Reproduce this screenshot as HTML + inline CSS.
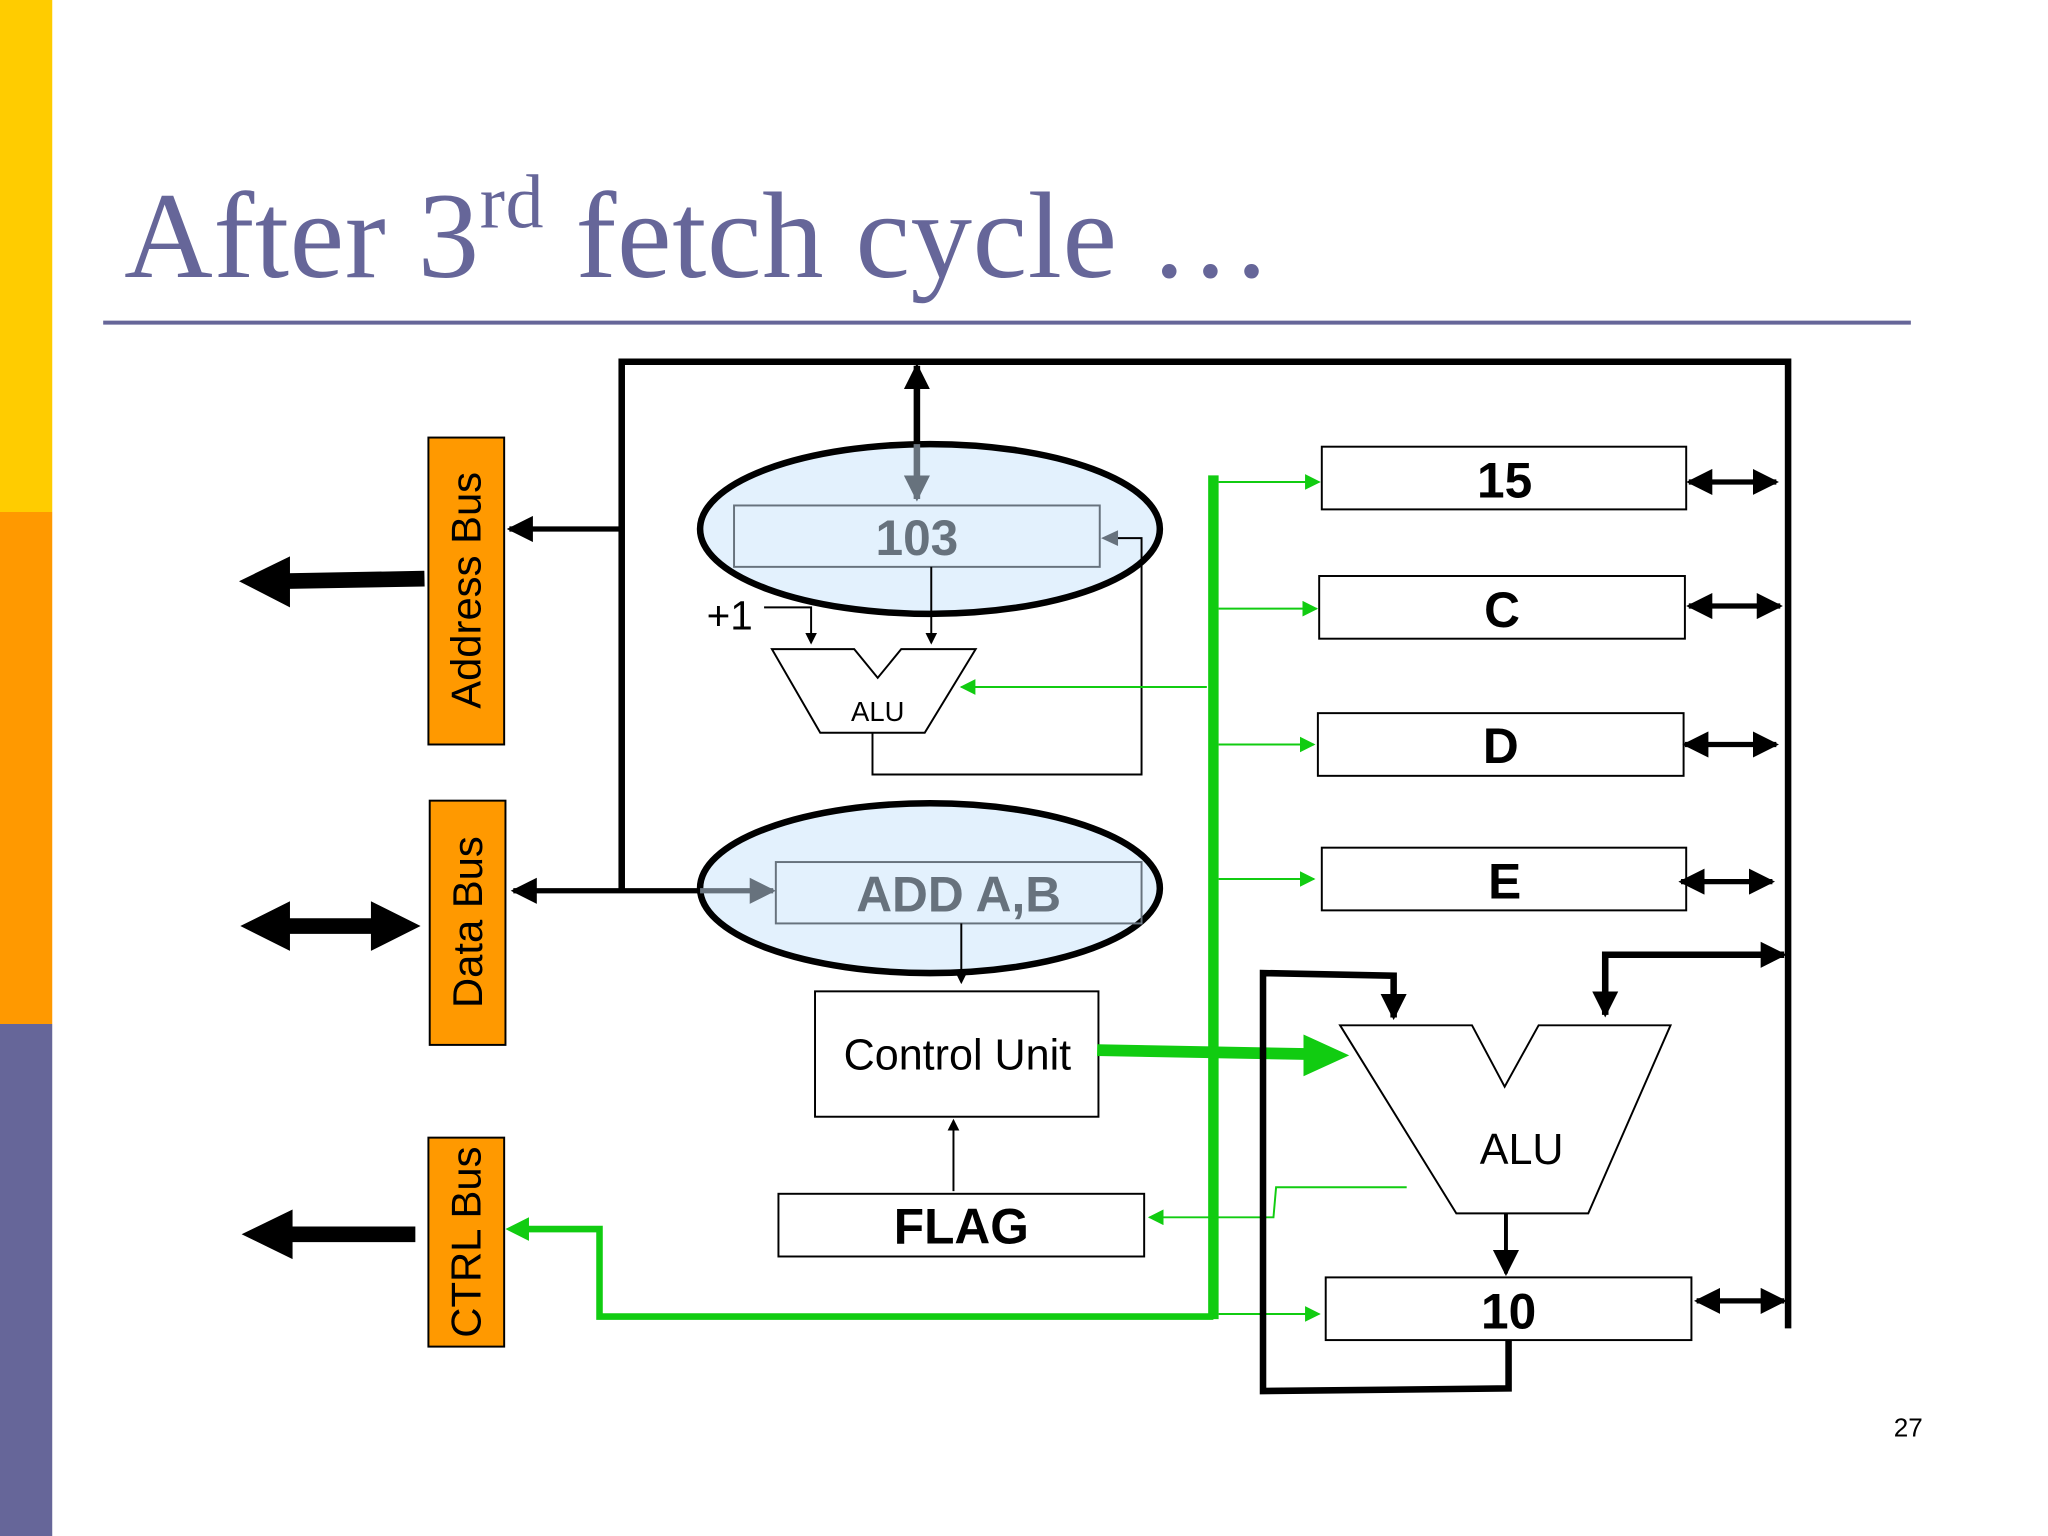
<!DOCTYPE html>
<html><head><style>html,body{margin:0;padding:0;background:#fff}svg{display:block}</style></head>
<body>
<svg width="2048" height="1536" viewBox="0 0 1568 1176" xmlns="http://www.w3.org/2000/svg" font-family="Liberation Sans, sans-serif">
<defs>
<marker id="ab" markerWidth="6" markerHeight="6" refX="5" refY="3" orient="auto-start-reverse" markerUnits="strokeWidth"><path d="M0,0L6,3L0,6z" fill="#000"/></marker>
<marker id="as" viewBox="0 0 10 10" markerWidth="20" markerHeight="20" refX="9" refY="5" orient="auto-start-reverse" markerUnits="userSpaceOnUse"><path d="M0,0L10,5L0,10z" fill="#000"/></marker>
<marker id="ag" viewBox="0 0 10 10" markerWidth="12" markerHeight="12" refX="9" refY="5" orient="auto" markerUnits="userSpaceOnUse"><path d="M0,0L10,5L0,10z" fill="#1c1"/></marker>
<marker id="agy" viewBox="0 0 10 10" markerWidth="20" markerHeight="20" refX="9" refY="5" orient="auto" markerUnits="userSpaceOnUse"><path d="M0,0L10,5L0,10z" fill="#67727d"/></marker>
</defs>
<rect x="0" y="0" width="40" height="392" fill="#FFCC00"/>
<rect x="0" y="392" width="40" height="392" fill="#FF9900"/>
<rect x="0" y="784" width="40" height="392" fill="#666699"/>
<text x="95" y="212" font-family="Liberation Serif, serif" font-size="94" letter-spacing="0.5" fill="#666699">After 3<tspan font-size="58" dy="-38">rd</tspan><tspan dy="38"> fetch cycle …</tspan></text>
<line x1="79" y1="247" x2="1463" y2="247" stroke="#666699" stroke-width="3"/>

<polyline points="476,682 476,277 1369,277 1369,1017" fill="none" stroke="#000" stroke-width="5"/>
<line x1="476" y1="405" x2="390" y2="405" stroke="#000" stroke-width="4" marker-end="url(#as)"/>
<line x1="536" y1="682" x2="393" y2="682" stroke="#000" stroke-width="4" marker-end="url(#as)"/>
<line x1="702" y1="340" x2="702" y2="280" stroke="#000" stroke-width="5" marker-end="url(#as)"/>

<rect x="328" y="335" width="58" height="235" fill="#FF9900" stroke="#000" stroke-width="1.5"/>
<text transform="translate(368,452) rotate(-90)" text-anchor="middle" font-size="32">Address Bus</text>
<rect x="329" y="613" width="58" height="187" fill="#FF9900" stroke="#000" stroke-width="1.5"/>
<text transform="translate(369,706) rotate(-90)" text-anchor="middle" font-size="32">Data Bus</text>
<rect x="328" y="871" width="58" height="160" fill="#FF9900" stroke="#000" stroke-width="1.5"/>
<text transform="translate(368,951) rotate(-90)" text-anchor="middle" font-size="32">CTRL Bus</text>

<line x1="325" y1="443" x2="215" y2="445" stroke="#000" stroke-width="12"/>
<path d="M183,445 L222,426 L222,465z"/>
<line x1="215" y1="709" x2="290" y2="709" stroke="#000" stroke-width="12"/>
<path d="M184,709 L222,690 L222,728z M322,709 L284,690 L284,728z"/>
<line x1="318" y1="945" x2="215" y2="945" stroke="#000" stroke-width="12"/>
<path d="M185,945 L224,926 L224,964z"/>

<ellipse cx="712" cy="405" rx="176" ry="65" fill="#e3f1fd" stroke="#000" stroke-width="5"/>
<rect x="562" y="387" width="280" height="47" fill="none" stroke="#67727d" stroke-width="1.5"/>
<text x="702" y="425" text-anchor="middle" font-size="38" font-weight="bold" fill="#67727d">103</text>
<line x1="702" y1="340" x2="702" y2="382" stroke="#67727d" stroke-width="5" marker-end="url(#agy)"/>
<ellipse cx="712" cy="680" rx="176" ry="65" fill="#e3f1fd" stroke="#000" stroke-width="5"/>
<rect x="594" y="660" width="280" height="47" fill="none" stroke="#67727d" stroke-width="1.5"/>
<text x="734" y="698" text-anchor="middle" font-size="38" font-weight="bold" fill="#67727d">ADD A,B</text>
<line x1="536" y1="682" x2="592" y2="682" stroke="#67727d" stroke-width="4" marker-end="url(#agy)"/>

<path d="M591,497 L654,497 L672,519 L690,497 L747,497 L708,561 L628,561 Z" fill="#fff" stroke="#000" stroke-width="1.5"/>
<text x="672" y="552" text-anchor="middle" font-size="21">ALU</text>
<text x="541" y="482" font-size="31">+1</text>
<polyline points="585,465 621,465 621,492" fill="none" stroke="#000" stroke-width="1.5" marker-end="url(#ab)"/>
<line x1="713" y1="434" x2="713" y2="492" stroke="#000" stroke-width="1.5" marker-end="url(#ab)"/>
<polyline points="668,561 668,593 874,593 874,412 846,412" fill="none" stroke="#000" stroke-width="1.5"/>
<path d="M843,412 L856,406 L856,418z" fill="#67727d"/>
<line x1="924" y1="526" x2="736" y2="526" stroke="#1c1" stroke-width="1.5" marker-end="url(#ag)"/>

<line x1="736" y1="707" x2="736" y2="752" stroke="#000" stroke-width="1.5" marker-end="url(#ab)"/>
<rect x="624" y="759" width="217" height="96" fill="#fff" stroke="#000" stroke-width="1.5"/>
<text x="733" y="819" text-anchor="middle" font-size="33">Control Unit</text>
<rect x="596" y="914" width="280" height="48" fill="#fff" stroke="#000" stroke-width="1.5"/>
<text x="736" y="952" text-anchor="middle" font-size="38" font-weight="bold">FLAG</text>
<line x1="730" y1="912" x2="730" y2="858" stroke="#000" stroke-width="1.5" marker-end="url(#ab)"/>

<line x1="929" y1="364" x2="929" y2="1010" stroke="#1c1" stroke-width="8"/>
<polyline points="929,1008 459,1008 459,941 400,941" fill="none" stroke="#1c1" stroke-width="5"/>
<path d="M387,941 L405,932 L405,950z" fill="#1c1"/>
<line x1="840" y1="804" x2="1000" y2="807" stroke="#1c1" stroke-width="9"/>
<path d="M1033,808 L998,792 L998,824z" fill="#1c1"/>
<line x1="933" y1="369" x2="1010" y2="369" stroke="#1c1" stroke-width="1.5" marker-end="url(#ag)"/>
<line x1="933" y1="466" x2="1008" y2="466" stroke="#1c1" stroke-width="1.5" marker-end="url(#ag)"/>
<line x1="933" y1="570" x2="1006" y2="570" stroke="#1c1" stroke-width="1.5" marker-end="url(#ag)"/>
<line x1="933" y1="673" x2="1006" y2="673" stroke="#1c1" stroke-width="1.5" marker-end="url(#ag)"/>
<line x1="933" y1="1006" x2="1010" y2="1006" stroke="#1c1" stroke-width="1.5" marker-end="url(#ag)"/>
<polyline points="1077,909 977,909 975,932 925,932 880,932" fill="none" stroke="#1c1" stroke-width="1.5" marker-end="url(#ag)"/>

<g stroke="#000" stroke-width="1.5" fill="#fff">
<rect x="1012" y="342" width="279" height="48"/>
<rect x="1010" y="441" width="280" height="48"/>
<rect x="1009" y="546" width="280" height="48"/>
<rect x="1012" y="649" width="279" height="48"/>
<rect x="1015" y="978" width="280" height="48"/>
</g>
<g font-size="38" font-weight="bold" text-anchor="middle">
<text x="1152" y="381">15</text>
<text x="1150" y="480">C</text>
<text x="1149" y="584">D</text>
<text x="1152" y="688">E</text>
<text x="1155" y="1017">10</text>
</g>
<g stroke="#000" stroke-width="4">
<line x1="1293" y1="369" x2="1360" y2="369" marker-start="url(#as)" marker-end="url(#as)"/>
<line x1="1293" y1="464" x2="1363" y2="464" marker-start="url(#as)" marker-end="url(#as)"/>
<line x1="1290" y1="570" x2="1360" y2="570" marker-start="url(#as)" marker-end="url(#as)"/>
<line x1="1287" y1="675" x2="1357" y2="675" marker-start="url(#as)" marker-end="url(#as)"/>
<line x1="1299" y1="996" x2="1366" y2="996" marker-start="url(#as)" marker-end="url(#as)"/>
</g>

<path d="M1026,785 L1127,785 L1152,832 L1178,785 L1279,785 L1216,929 L1115,929 Z" fill="#fff" stroke="#000" stroke-width="1.5"/>
<text x="1165" y="891" text-anchor="middle" font-size="33">ALU</text>
<polyline points="1229,777 1229,731 1366,731" fill="none" stroke="#000" stroke-width="5" marker-start="url(#as)" marker-end="url(#as)"/>
<polyline points="1155,1026 1155,1063 967,1065 967,745 1067,747 1067,779" fill="none" stroke="#000" stroke-width="5" marker-end="url(#as)"/>
<line x1="1153" y1="929" x2="1153" y2="975" stroke="#000" stroke-width="3" marker-end="url(#as)"/>

<text x="1461" y="1100" text-anchor="middle" font-size="20">27</text>
</svg>
</body></html>
